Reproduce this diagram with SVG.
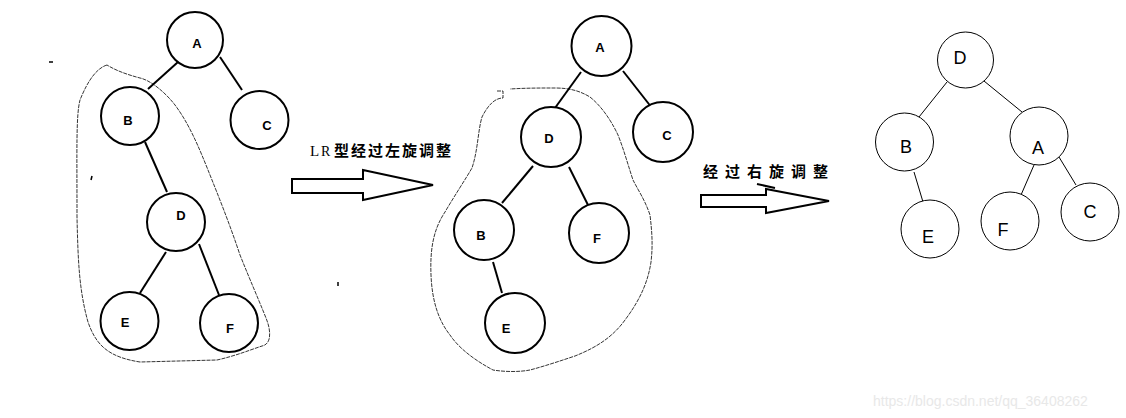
<svg xmlns="http://www.w3.org/2000/svg" width="1126" height="418" viewBox="0 0 1126 418">
<style>
.n1 circle{fill:#fff;stroke:#000;stroke-width:2}
.n3 circle{fill:#fff;stroke:#000;stroke-width:1}
.n1 text{font-family:"Liberation Sans",Arial,sans-serif;font-size:13px;font-weight:bold;text-anchor:middle;dominant-baseline:central}
.n3 text{font-family:"Liberation Sans",Arial,sans-serif;font-size:18px;text-anchor:middle;dominant-baseline:central}
.e1 line{stroke:#000;stroke-width:2}
.e3 line{stroke:#000;stroke-width:1}
.hull{fill:none;stroke:#000;stroke-width:0.8;stroke-dasharray:4 1}
.arr{fill:#fff;stroke:#000;stroke-width:2;stroke-linejoin:miter}
.lbl{font-family:"Liberation Serif","Noto Sans CJK SC",serif;font-size:15px;font-weight:bold;fill:#000}
</style>
<rect width="1126" height="418" fill="#fff"/>

<g id="connectors">
  <g class="e1">
    <line x1="178" y1="62" x2="148" y2="89"/>
    <line x1="220" y1="57" x2="242" y2="90"/>
    <line x1="145" y1="142" x2="167" y2="192"/>
    <line x1="166" y1="252" x2="140" y2="293"/>
    <line x1="199" y1="244" x2="219" y2="295"/>
    <line x1="581" y1="72" x2="555" y2="108"/>
    <line x1="623" y1="71" x2="652" y2="108"/>
    <line x1="533" y1="166" x2="502" y2="203"/>
    <line x1="569" y1="167" x2="592" y2="213"/>
    <line x1="493" y1="262" x2="502" y2="293"/>
  </g>
  <g class="e3">
    <line x1="947" y1="82" x2="919" y2="117"/>
    <line x1="984" y1="81" x2="1022" y2="112"/>
    <line x1="914" y1="172" x2="923" y2="202"/>
    <line x1="1034" y1="165" x2="1021" y2="195"/>
    <line x1="1059" y1="157" x2="1076" y2="185"/>
  </g>
</g>

<path class="hull" d="M107,65 C97,68 88,80 80,100 C76,115 77,150 77,217 C78,260 79,290 88,322 C96,345 108,357 140,362 L217,360 C235,356 250,350 262,346 C272,344 271,330 266,318 C258,298 250,280 240,255 C230,225 220,200 210,175 C200,150 190,125 175,105 C165,92 150,80 140,78 C125,74 115,70 107,65"/>
<path class="hull" d="M497,91 L503,91 L503,98 C495,98 488,105 482,117 C478,130 478,150 472,168 C465,180 455,195 445,212 C433,230 430,250 431,275 C432,300 438,320 450,335 C460,350 478,362 493,370 C505,372 520,372 530,370 C545,366 560,361 575,356 C595,348 612,338 625,320 C640,300 648,282 651,262 C653,245 652,232 650,215 C645,200 638,190 633,180 C628,165 624,150 618,135 C610,118 600,105 590,97 C580,91 570,88 555,88 C540,88 525,88 510,89"/>

<g id="marks" stroke="#000" stroke-width="1.5">
  <line x1="49" y1="62" x2="53" y2="62"/>
  <line x1="92" y1="176" x2="91" y2="180"/>
  <line x1="338" y1="282" x2="338" y2="286"/>
</g>

<g id="t1A" class="n1"><circle cx="195" cy="40" r="28"/><text x="197" y="43">A</text></g>
<g id="t1B" class="n1"><circle cx="130" cy="116" r="29"/><text x="128" y="120">B</text></g>
<g id="t1C" class="n1"><circle cx="259.5" cy="120" r="29"/><text x="267" y="125">C</text></g>
<g id="t1D" class="n1"><circle cx="176" cy="222" r="29"/><text x="181" y="215">D</text></g>
<g id="t1E" class="n1"><circle cx="129.5" cy="321" r="29"/><text x="125" y="322">E</text></g>
<g id="t1F" class="n1"><circle cx="229" cy="323" r="29"/><text x="230" y="328">F</text></g>

<g id="arrow1">
  <polygon class="arr" points="292,179 363,179 363,170 433,185 363,200 363,193 292,193"/>
</g>
<text id="label1" class="lbl" y="156"><tspan x="310" font-weight="normal">L</tspan><tspan x="321" font-weight="normal" font-size="14">R</tspan><tspan x="334" letter-spacing="2">型经过左旋调整</tspan></text>

<g id="t2A" class="n1"><circle cx="601.5" cy="46" r="30"/><text x="600" y="47">A</text></g>
<g id="t2C" class="n1"><circle cx="663" cy="132" r="30"/><text x="667" y="135">C</text></g>
<g id="t2D" class="n1"><circle cx="551" cy="137" r="30"/><text x="549" y="138">D</text></g>
<g id="t2B" class="n1"><circle cx="484" cy="230" r="30"/><text x="481" y="235">B</text></g>
<g id="t2F" class="n1"><circle cx="599" cy="233" r="30"/><text x="597" y="238">F</text></g>
<g id="t2E" class="n1"><circle cx="515" cy="323" r="30"/><text x="506" y="328">E</text></g>

<g id="arrow2">
  <polygon class="arr" points="701,195 766,195 766,189 829,201 766,213 766,207 701,207"/>
  <line x1="757" y1="184" x2="775" y2="188" stroke="#000" stroke-width="2"/>
</g>
<text id="label2" class="lbl" x="703" y="177" letter-spacing="7">经过右旋调整</text>

<g id="t3D" class="n3"><circle cx="965.5" cy="60" r="28"/><text x="960" y="58">D</text></g>
<g id="t3B" class="n3"><circle cx="904.5" cy="142" r="29"/><text x="906" y="147">B</text></g>
<g id="t3A" class="n3"><circle cx="1039" cy="136" r="29"/><text x="1038" y="148">A</text></g>
<g id="t3E" class="n3"><circle cx="930" cy="229" r="29"/><text x="928" y="237">E</text></g>
<g id="t3F" class="n3"><circle cx="1010" cy="221" r="29"/><text x="1003" y="230">F</text></g>
<g id="t3C" class="n3"><circle cx="1090" cy="212" r="29"/><text x="1090" y="212">C</text></g>

<text id="watermark" x="873" y="406" font-family="'Liberation Sans',Arial,sans-serif" font-size="14" fill="#e8e8e8">https://blog.csdn.net/qq_36408262</text>
</svg>
